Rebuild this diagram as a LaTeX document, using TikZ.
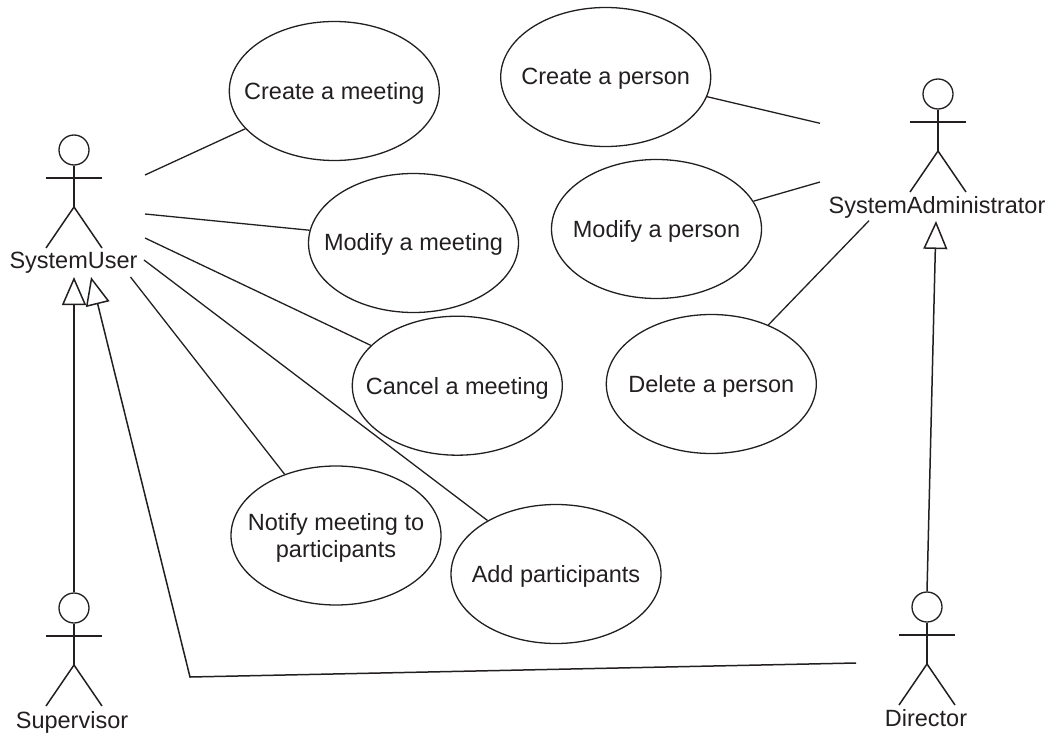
\documentclass[tikz,border=0pt]{standalone}
\usepackage{fontspec}
\setmainfont{Liberation Sans}
\usetikzlibrary{math,arrows.meta,shapes.geometric}
\definecolor{inkDark}{HTML}{231F20}
\tikzset{
  every node/.style = {font=\fontsize{23.5}{27}\selectfont, text=inkDark, inner sep=0pt},
  actorLine/.style = {draw=inkDark, line width=1.5pt},
  actorHead/.style = {draw=inkDark, line width=1.3pt, circle, minimum size=30pt},
  useCase/.style = {draw=inkDark, line width=1.3pt, ellipse, minimum width=210pt, minimum height=139pt},
  useCaseText/.style = {align=center, anchor=base},
  assoc/.style = {draw=inkDark, line width=1.3pt},
  generalize/.style = {draw=inkDark, line width=1.5pt, miter limit=10,
    -{Triangle[open, length=28pt, width=24pt]}}
}

\begin{document}
\begin{tikzpicture}[x=1pt, y=-1pt]
    \tikzmath{
      \armOffset = 28;
      \armHalf = 28;
      \hipOffset = 57;
      \footOffset = 98;
    }
    \useasboundingbox (0,0) rectangle (1051,735);
    \foreach \actor/\xx/\yy/\labelX/\labelY/\labelText in {
      user/74/150/73.5/269/SystemUser,
      supervisor/74/608/72/728/Supervisor,
      admin/938/94/937/214/SystemAdministrator,
      director/927/607/926/726/Director} {
      \node[actorHead] (\actor Head) at (\xx, \yy) {};
      \draw[actorLine] (\actor Head.south) -- (\xx, \yy + \hipOffset);
      \draw[actorLine] (\xx - \armHalf, \yy + \armOffset) -- (\xx + \armHalf, \yy + \armOffset);
      \draw[actorLine] (\xx - \armHalf, \yy + \footOffset) -- (\xx, \yy + \hipOffset)
        -- (\xx + \armHalf, \yy + \footOffset);
      \node[anchor=base] (\actor Label) at (\labelX, \labelY) {\labelText};
    }
    \foreach \useName/\xx/\yy/\textDrop/\useText in {
      meetingCreate/334.3/91/-9/Create a meeting,
      meetingModify/413.5/243/-8/Modify a meeting,
      meetingCancel/457.3/385.7/-8.5/Cancel a meeting,
      meetingNotify/336/535.5/-21.5/{Notify meeting to\\participants},
      participantsAdd/556/574/-8/Add participants,
      personCreate/605.7/77/-8/Create a person,
      personModify/656.5/229/-8/Modify a person,
      personDelete/711.3/384/-8/Delete a person} {
      \node[useCase] (\useName) at (\xx, \yy) {};
      \node[useCaseText, yshift=\textDrop pt] (\useName Text) at (\useName) {\useText};
    }
    \coordinate (userEndA) at (145, 175);
    \coordinate (userEndB) at (145, 214);
    \coordinate (userEndC) at (145, 238);
    \coordinate (userEndD) at (144, 260);
    \coordinate (userEndE) at (130.5, 277);
    \coordinate (adminEndA) at (820, 123.3);
    \coordinate (adminEndB) at (820, 182);
    \coordinate (adminEndC) at (869, 220.7);
    \coordinate (userTipLeft) at (74, 277);
    \coordinate (userTipRight) at (91, 277);
    \coordinate (adminTip) at (936, 221);
    \coordinate (directorEnd) at (856, 663);
    \coordinate (directorBend) at (190, 677);
    \draw[assoc] (userEndA) -- (meetingCreate.203.2);
    \draw[assoc] (userEndB) -- (meetingModify.173.4);
    \draw[assoc] (userEndC) -- (meetingCancel.155.5);
    \draw[assoc] (userEndD) -- (participantsAdd.142.1);
    \draw[assoc] (userEndE) -- (meetingNotify.130);
    \draw[assoc] (personCreate.-11.6) -- (adminEndA);
    \draw[assoc] (personModify.16) -- (adminEndB);
    \draw[assoc] (personDelete.46) -- (adminEndC);
    \draw[generalize] (supervisorHead.north) -- (userTipLeft);
    \draw[generalize] (directorHead.north) -- (adminTip);
    \draw[generalize] (directorEnd) -- (directorBend) -- (userTipRight);
  \end{tikzpicture}
\end{document}
